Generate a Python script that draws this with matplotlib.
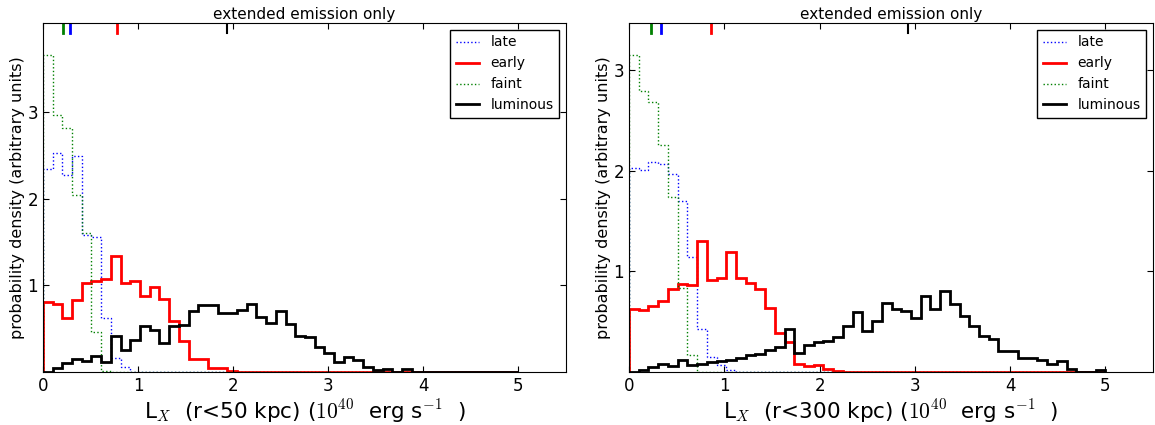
import numpy as np
import matplotlib
matplotlib.use('Agg')
import matplotlib.pyplot as plt

plt.rcParams['mathtext.fontset'] = 'cm'
plt.rcParams['font.family'] = ['DejaVu Sans']

# 49 bins between 0 and 5 (1e40 erg/s)
edges = np.linspace(0, 5, 50)

def pad(v):
    v = list(v)
    return np.array(v + [0.0] * (len(edges) - 1 - len(v)))

# r < 50 kpc
late_50 = pad([2.34, 2.53, 2.27, 2.49, 1.58, 1.56, 0.62, 0.16, 0.06])
early_50 = pad([0.81, 0.79, 0.62, 0.83, 1.03, 1.05, 1.07, 1.34, 1.03, 1.05,
                0.88, 0.98, 0.84, 0.59, 0.36, 0.15, 0.15, 0.05, 0.05, 0.01])
faint_50 = pad([3.66, 2.96, 2.81, 2.04, 1.60, 0.46, 0.01])
lum_50 = pad([0.0, 0.05, 0.10, 0.15, 0.13, 0.18, 0.11, 0.42, 0.25, 0.37,
              0.53, 0.48, 0.34, 0.53, 0.54, 0.70, 0.77, 0.77, 0.68, 0.685,
              0.716, 0.79, 0.63, 0.57, 0.70, 0.55, 0.42, 0.40, 0.285, 0.215,
              0.12, 0.17, 0.14, 0.054, 0.02, 0.04, 0.0, 0.03])
med_50 = [0.287, 0.774, 0.21, 1.936]   # late, early, faint, luminous

# r < 300 kpc
late_300 = pad([2.03, 2.01, 2.08, 2.07, 1.97, 1.70, 1.14, 0.43, 0.15, 0.067, 0.017])
early_300 = pad([0.63, 0.62, 0.66, 0.70, 0.82, 0.87, 0.86, 1.30, 0.91, 0.93,
                 1.19, 0.93, 0.88, 0.82, 0.64, 0.39, 0.30, 0.08, 0.06, 0.07,
                 0.03, 0.01])
faint_300 = pad([3.15, 2.79, 2.68, 2.25, 1.74, 0.83, 0.166])
lum_300 = pad([0.0, 0.02, 0.05, 0.08, 0.06, 0.12, 0.07, 0.08, 0.10, 0.11,
               0.12, 0.14, 0.17, 0.18, 0.22, 0.25, 0.43, 0.19, 0.27, 0.30,
               0.31, 0.35, 0.46, 0.60, 0.41, 0.51, 0.69, 0.63, 0.61, 0.54,
               0.75, 0.63, 0.80, 0.68, 0.56, 0.46, 0.36, 0.33, 0.21, 0.21,
               0.14, 0.14, 0.12, 0.08, 0.11, 0.03, 0.0, 0.0, 0.02])
med_300 = [0.336, 0.865, 0.23, 2.93]

labels = ['late', 'early', 'faint', 'luminous']
colors = ['b', 'r', 'g', 'k']
styles = [':', '-', ':', '-']
widths = [1, 2, 1, 2]

fig = plt.figure(figsize=(11.55, 4.25), dpi=100)
ax1 = fig.add_axes([0.0372, 0.1247, 0.4528, 0.8212])
ax2 = fig.add_axes([0.5446, 0.1247, 0.4537, 0.8212])

panels = [
    (ax1, [late_50, early_50, faint_50, lum_50], med_50, '50'),
    (ax2, [late_300, early_300, faint_300, lum_300], med_300, '300'),
]

for ax, series, meds, r in panels:
    for vals, lab, c, ls, lw in zip(series, labels, colors, styles, widths):
        ax.stairs(vals, edges, baseline=0, color=c, linestyle=ls, lw=lw, label=lab)
    # medians marked along the top
    for m, c in zip(meds, colors):
        ax.axvline(m, ymin=0.97, ymax=1.0, color=c, lw=2 if c != 'k' else 1.5)
    ymax = 1.1 * max(v.max() for v in series)
    ax.set_xlim(0, 5.5)
    ax.set_ylim(0, ymax)
    ax.set_xticks([0, 1, 2, 3, 4, 5])
    ax.set_yticks([1, 2, 3])
    ax.tick_params(direction='in', top=True, right=True, length=4, labelsize=12)
    ax.set_title('extended emission only', fontsize=11, pad=3)
    ax.set_ylabel('probability density (arbitrary units)', fontsize=11.5, labelpad=2)
    ax.set_xlabel(r'L$_X$  (r<%s kpc) ($10^{40}$  erg s$^{-1}$  )' % r, fontsize=15.5, labelpad=2)
    leg = ax.legend(loc='upper right', fontsize=10, fancybox=False, framealpha=1,
                    edgecolor='k', handlelength=1.7, borderaxespad=0.5)
    leg.get_frame().set_linewidth(1)

plt.savefig('out.png', dpi=100)
plt.close()
